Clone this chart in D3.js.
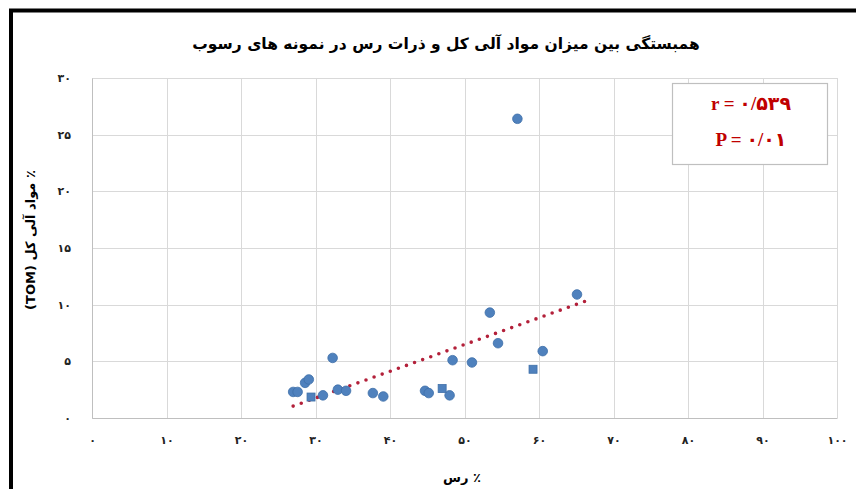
<!DOCTYPE html>
<html>
<head>
<meta charset="utf-8">
<script src="https://cdn.jsdelivr.net/npm/d3@7/dist/d3.min.js"></script>
<style>
  html, body { margin: 0; padding: 0; background: #fff; }
  svg { display: block; }
</style>
</head>
<body>
<script>
// ---- data ----
const titleText = "همبستگی بین میزان مواد آلی کل و ذرات رس در نمونه های رسوب";
const xAxisTitle = "٪ رس";
const yAxisTitle = "٪ مواد آلی کل (TOM)";
const xTickValues = [0, 10, 20, 30, 40, 50, 60, 70, 80, 90, 100];
const xTickLabels = ["۰", "۱۰", "۲۰", "۳۰", "۴۰", "۵۰", "۶۰", "۷۰", "۸۰", "۹۰", "۱۰۰"];
const yTickValues = [0, 5, 10, 15, 20, 25, 30];
const yTickLabels = ["۰", "۵", "۱۰", "۱۵", "۲۰", "۲۵", "۳۰"];
const statLines = ["r = ۰/۵۳۹", "P = ۰/۰۱"];

// clay % (x) and TOM % (y), circle markers
const clayCircle = [27.0, 27.6, 28.6, 29.1, 32.3, 31.0, 33.0, 34.1, 37.7, 39.1, 44.7, 45.2, 48.0, 48.4, 51.0, 53.4, 54.5, 60.5, 65.1, 57.1];
const tomCircle  = [2.3, 2.3, 3.1, 3.4, 5.3, 2.0, 2.5, 2.4, 2.2, 1.9, 2.4, 2.2, 2.0, 5.1, 4.9, 9.3, 6.6, 5.9, 10.9, 26.4];
// square markers
const claySquare = [29.4, 47.0, 59.2];
const tomSquare  = [1.85, 2.6, 4.3];
// trendline end points
const trendX = [27.0, 66.6];
const trendY = [1.05, 10.4];

// ---- drawing ----
const W = 856, H = 489;
const svg = d3.select("body").append("svg").attr("width", W).attr("height", H);
svg.append("rect").attr("width", W).attr("height", H).attr("fill", "#fff");

const x = d3.scaleLinear().domain([0, 100]).range([92, 837]);
const y = d3.scaleLinear().domain([0, 30]).range([418, 78]);

// outer frame (left and top black lines)
svg.append("line").attr("x1", 11).attr("x2", 11).attr("y1", 9).attr("y2", H).attr("stroke", "#000").attr("stroke-width", 4);
svg.append("line").attr("x1", 9).attr("x2", W).attr("y1", 10.5).attr("y2", 10.5).attr("stroke", "#000").attr("stroke-width", 4);

// gridlines
const grid = svg.append("g");
grid.selectAll("line.v").data(xTickValues).join("line")
  .attr("x1", d => Math.round(x(d)) + 0.5).attr("x2", d => Math.round(x(d)) + 0.5)
  .attr("y1", y(30)).attr("y2", y(0))
  .attr("stroke", "#d9d9d9").attr("stroke-width", 1);
grid.selectAll("line.h").data(yTickValues).join("line")
  .attr("x1", x(0)).attr("x2", x(100))
  .attr("y1", d => Math.round(y(d)) + 0.5).attr("y2", d => Math.round(y(d)) + 0.5)
  .attr("stroke", "#d9d9d9").attr("stroke-width", 1);

// axes
const xAxis = d3.axisBottom(x).tickValues(xTickValues)
  .tickFormat((d, i) => xTickLabels[i]).tickSize(0).tickPadding(18);
const gx = svg.append("g").attr("transform", `translate(0,${y(0)})`).call(xAxis);
gx.select(".domain").attr("stroke", "#bfbfbf");
gx.selectAll("text").attr("font-family", "DejaVu Sans").attr("font-weight", "bold").attr("font-size", 11).attr("fill", "#222").attr("direction", "ltr");

const yAxis = d3.axisLeft(y).tickValues(yTickValues)
  .tickFormat((d, i) => yTickLabels[i]).tickSize(0).tickPadding(21);
const gy = svg.append("g").attr("transform", `translate(${x(0)},0)`).call(yAxis);
gy.select(".domain").attr("stroke", "#bfbfbf");
gy.selectAll("text").attr("font-family", "DejaVu Sans").attr("font-weight", "bold").attr("font-size", 11).attr("fill", "#222").attr("direction", "ltr");

// trendline
svg.append("path")
  .datum(trendX.map((d, i) => [d, trendY[i]]))
  .attr("d", d3.line().x(d => x(d[0])).y(d => y(d[1])))
  .attr("fill", "none").attr("stroke", "#b3203a").attr("stroke-width", 3.6)
  .attr("stroke-linecap", "round").attr("stroke-dasharray", "0,8.6");

// points
const color = "#4f81bd";
svg.append("g").selectAll("circle").data(clayCircle.map((d, i) => [d, tomCircle[i]])).join("circle")
  .attr("cx", d => x(d[0])).attr("cy", d => y(d[1])).attr("r", 4.8)
  .attr("fill", color).attr("stroke", "#3e6fa8").attr("stroke-width", 0.8);
svg.append("g").selectAll("rect").data(claySquare.map((d, i) => [d, tomSquare[i]])).join("rect")
  .attr("x", d => x(d[0]) - 4).attr("y", d => y(d[1]) - 4).attr("width", 8).attr("height", 8)
  .attr("fill", color).attr("stroke", "#3e6fa8").attr("stroke-width", 0.8);

// stats box
svg.append("rect").attr("x", 672.5).attr("y", 83.5).attr("width", 155).attr("height", 81)
  .attr("fill", "#fff").attr("stroke", "#bfbfbf").attr("stroke-width", 1.2);
svg.append("g").selectAll("text").data(statLines).join("text")
  .attr("x", 751).attr("y", (d, i) => 110 + i * 36)
  .attr("text-anchor", "middle").attr("direction", "ltr")
  .attr("font-family", "Liberation Serif, DejaVu Sans").attr("font-weight", "bold")
  .attr("font-size", 19).attr("fill", "#c00000").text(d => d);

// titles
svg.append("text").attr("x", 446).attr("y", 49).attr("text-anchor", "middle")
  .attr("direction", "rtl").attr("font-family", "DejaVu Sans").attr("font-weight", "bold")
  .attr("font-size", 15.5).attr("fill", "#000").text(titleText);

svg.append("text").attr("x", 462).attr("y", 482).attr("text-anchor", "middle")
  .attr("direction", "rtl").attr("font-family", "DejaVu Sans").attr("font-weight", "bold")
  .attr("font-size", 13).attr("fill", "#000").text(xAxisTitle);

svg.append("text").attr("transform", "translate(35,240) rotate(-90)").attr("text-anchor", "middle")
  .attr("direction", "rtl").attr("font-family", "DejaVu Sans").attr("font-weight", "bold")
  .attr("font-size", 13).attr("fill", "#000").text(yAxisTitle);
</script>
</body>
</html>
